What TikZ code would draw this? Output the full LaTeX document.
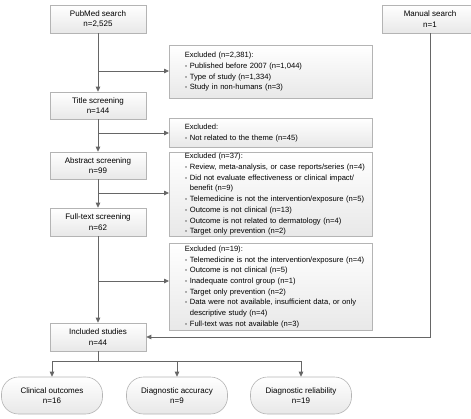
\documentclass[tikz,border=0pt]{standalone}
\usepackage{fontspec}
\setmainfont{Liberation Sans}
\usetikzlibrary{arrows.meta}
\definecolor{boxline}{HTML}{B4B4B4}
\definecolor{conn}{HTML}{666666}
\definecolor{boxbot}{HTML}{E8E8E8}
\begin{document}
\begin{tikzpicture}[x=1pt,y=-1pt,
  box/.style={draw=boxline,line width=0.6pt,top color=white,bottom color=boxbot,
    minimum width=96pt,inner sep=0pt,align=center,font=\fontsize{8}{10.7}\selectfont},
  exbox/.style={draw=boxline,line width=0.6pt,top color=white,bottom color=boxbot,
    minimum width=203pt,text width=190pt,inner sep=0pt,align=left,anchor=north west,
    font=\fontsize{7.6}{10.7}\selectfont},
  rbox/.style={draw=boxline,line width=0.6pt,top color=white,bottom color=boxbot,
    rounded corners=17pt,minimum width=101pt,minimum height=37pt,inner sep=0pt,align=center,
    font=\fontsize{8}{10.7}\selectfont},
  conn/.style={draw=conn,line width=0.8pt},
  arr/.style={conn,-{Triangle[length=5pt,width=4.5pt]}}]
\useasboundingbox (0,0) rectangle (471,418);
\begin{scope}
\clip (0,0) rectangle (471,418);
\node[box,minimum height=28pt] (pub) at (98,19) {PubMed search\\n=2,525};
\node[box,minimum height=28pt] (man) at (430,19) {Manual search\\n=1};
\node[box,minimum height=27pt] (title) at (98,105.5) {Title screening\\n=144};
\node[box,minimum height=27pt] (abs) at (98,165.5) {Abstract screening\\n=99};
\node[box,minimum height=28pt] (full) at (98,222) {Full-text screening\\n=62};
\node[box,minimum height=28pt] (inc) at (98,337) {Included studies\\n=44};

\node[exbox,minimum height=53pt] (ex1) at (169,45) {\hspace*{9pt}\parbox[c]{190pt}{Excluded (n=2,381):\\
- Published before 2007 (n=1,044)\\
- Type of study (n=1,334)\\
- Study in non-humans (n=3)}};
\node[exbox,minimum height=29pt] (ex2) at (169,118) {\hspace*{9pt}\parbox[c]{190pt}{Excluded:\\
- Not related to the theme (n=45)}};
\node[exbox,minimum height=84pt] (ex3) at (169,152) {\hspace*{9pt}\parbox[c]{190pt}{Excluded (n=37):\\
- Review, meta-analysis, or case reports/series (n=4)\\
- Did not evaluate effectiveness or clinical impact/\\
\hspace*{5pt}benefit (n=9)\\
- Telemedicine is not the intervention/exposure (n=5)\\
- Outcome is not clinical (n=13)\\
- Outcome is not related to dermatology (n=4)\\
- Target only prevention (n=2)}};
\node[exbox,minimum height=87pt] (ex4) at (169,243) {\hspace*{9pt}\parbox[c]{190pt}{Excluded (n=19):\\
- Telemedicine is not the intervention/exposure (n=4)\\
- Outcome is not clinical (n=5)\\
- Inadequate control group (n=1)\\
- Target only prevention (n=2)\\
- Data were not available, insufficient data, or only\\
\hspace*{5pt}descriptive study (n=4)\\
- Full-text was not available (n=3)}};

\node[rbox] (clin) at (52,395.5) {Clinical outcomes\\n=16};
\node[rbox] (acc) at (177,395.5) {Diagnostic accuracy\\n=9};
\node[rbox] (rel) at (301,395.5) {Diagnostic reliability\\n=19};
\end{scope}

\coordinate (j1) at (98,71);
\coordinate (j2) at (98,133);
\coordinate (j3) at (98,193);
\coordinate (j4) at (98,281);
\coordinate (mb) at (430,337);
\coordinate (bj) at (98,361);

\draw[arr] (pub.south) -- (title.north);
\draw[arr] (title.south) -- (abs.north);
\draw[arr] (abs.south) -- (full.north);
\draw[arr] (full.south) -- (inc.north);
\draw[arr] (j1) -- (ex1.west |- j1);
\draw[arr] (j2) -- (ex2.west |- j2);
\draw[arr] (j3) -- (ex3.west |- j3);
\draw[arr] (j4) -- (ex4.west |- j4);
\draw[arr] (man.south) -- (mb) -- (inc.east);
\draw[conn] (inc.south) -- (bj);
\draw[conn] (clin.north |- bj) -- (rel.north |- bj);
\draw[arr] (clin.north |- bj) -- (clin.north);
\draw[arr] (acc.north |- bj) -- (acc.north);
\draw[arr] (rel.north |- bj) -- (rel.north);
\end{tikzpicture}
\end{document}
